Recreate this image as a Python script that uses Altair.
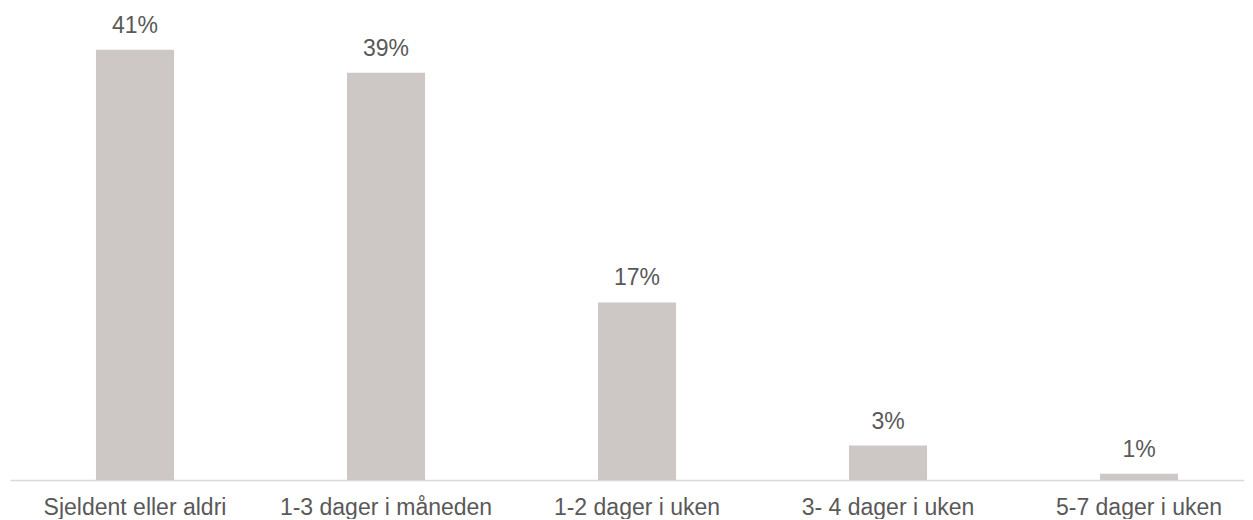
import altair as alt
import pandas as pd

categories = ["Sjeldent eller aldri", "1-3 dager i måneden", "1-2 dager i uken", "3- 4 dager i uken", "5-7 dager i uken"]
values = [41.2, 39.0, 17.0, 3.3, 0.6]
labels = ["41%", "39%", "17%", "3%", "1%"]

df = pd.DataFrame({"cat": categories, "val": values, "lab": labels})

FONT = "Liberation Sans"

x = alt.X("cat:N", sort=categories, title=None,
          scale=alt.Scale(paddingInner=0.689, paddingOuter=0.3026, align=0.566),
          axis=alt.Axis(labelAngle=0, ticks=False, labelPadding=16, labelFontSize=23,
                        labelFont=FONT, labelColor="#595959", domainColor="#d9d9d9",
                        domainWidth=1.5, labelLimit=400))
y = alt.Y("val:Q", scale=alt.Scale(domain=[0, 45], nice=False), axis=None)

bars = alt.Chart(df).mark_bar(color="#cdc8c5").encode(x=x, y=y)
text = alt.Chart(df).mark_text(baseline="alphabetic", dy=-17, fontSize=23, font=FONT,
                               color="#595959").encode(x=x, y=y, text="lab:N")

chart = (bars + text).properties(
    width=1234, height=470,
    padding={"left": 2, "top": 2, "right": 0, "bottom": 0},
    background="white"
).configure_view(strokeWidth=0, stroke="transparent")

chart.save("out.html", embed_options={"renderer": "svg", "actions": False})
